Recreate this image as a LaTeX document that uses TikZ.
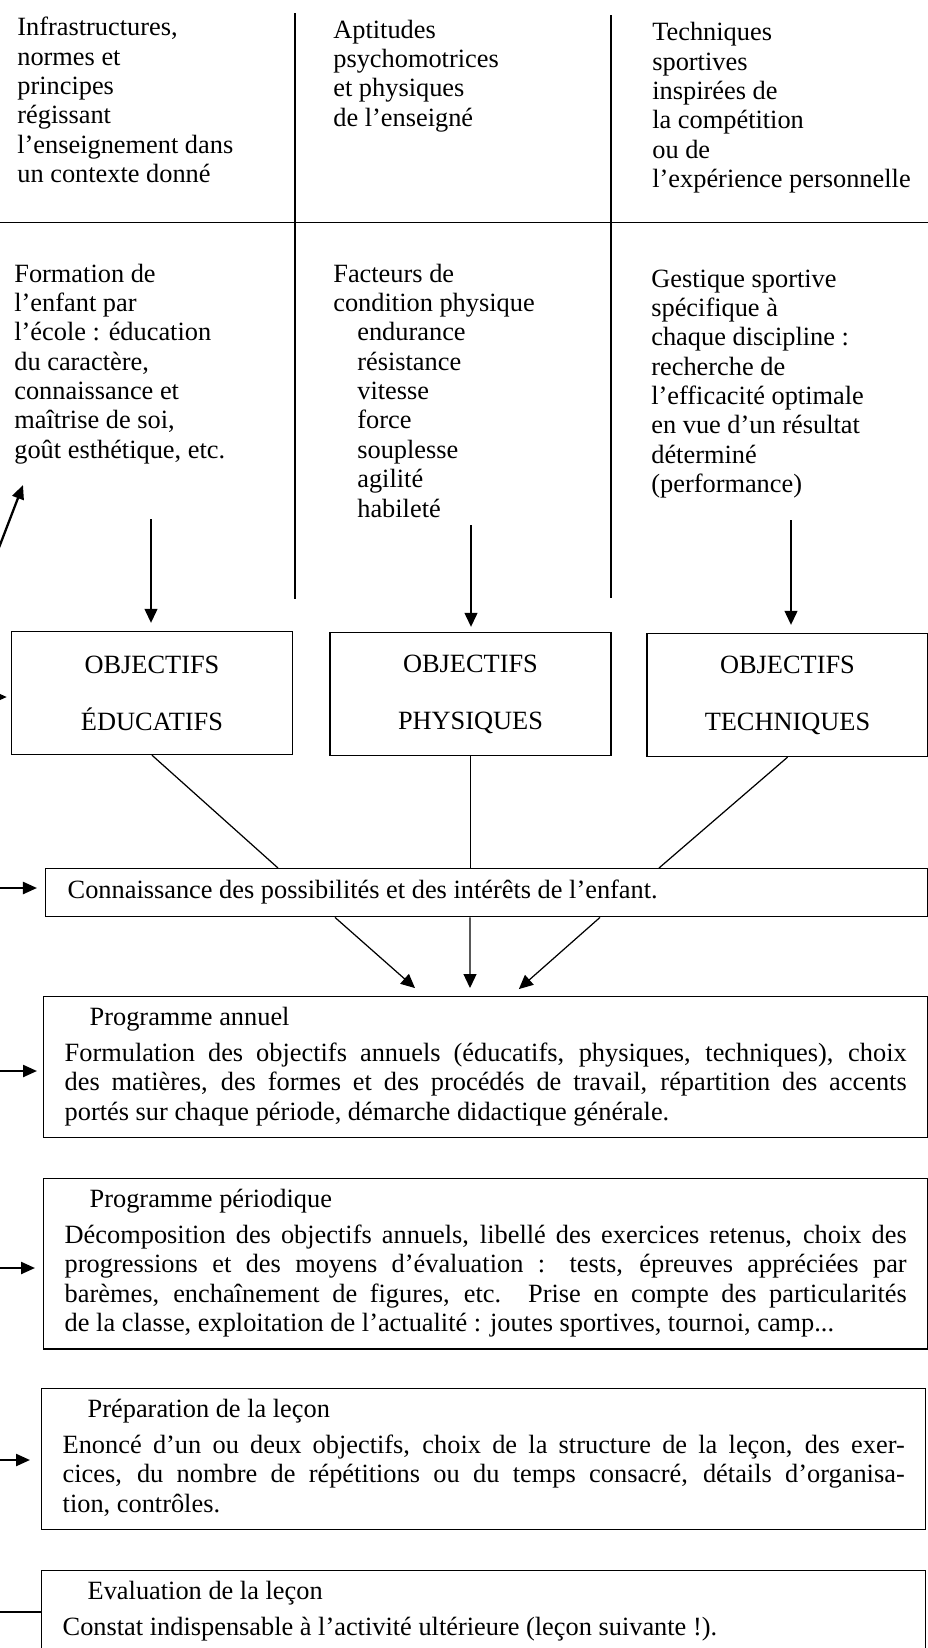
\documentclass[tikz,border=0pt]{standalone}
\usepackage{fontspec}
\setmainfont{Liberation Serif}
\usetikzlibrary{arrows.meta, calc}
\tolerance=10000
\hbadness=10000
\newcommand{\bodyfont}{\fontsize{15}{16.7}\selectfont}
\tikzset{
    cell/.style={anchor=north west, align=left, inner sep=0pt, font=\bodyfont},
    objbox/.style={rectangle, draw=black, line width=0.8pt, minimum width=5.62cm,
        minimum height=2.46cm, align=center, font=\bodyfont},
    progbox/.style={rectangle, draw=black, line width=0.8pt, anchor=north west,
        text width=16.84cm, inner xsep=0.42cm, inner ysep=0.17cm, align=justify, font=\bodyfont},
    arr/.style={-{Triangle[length=0.28cm, width=0.26cm]}, line width=0.7pt, draw=black},
    inarr/.style={-{Triangle[length=0.28cm, width=0.24cm]}, line width=1.3pt, draw=black},
    gridline/.style={line width=0.8pt, draw=black},
    tie/.style={line width=0.7pt, draw=black}
}

\begin{document}
\begin{tikzpicture}
%% LAYOUT (origin top left, 1 px of the page = 0.02 cm):
%% y= -0.7 .. -3.7 : three source texts, rule at y=-4.45
%% y= -5.7 .. -10.3: three detail texts
%% y=-13.9         : OBJ boxes   (edu, phy, tec)
%% y=-17.8         : conn box
%% y=-21 .. -33    : annuel, periodique, preparation, evaluation
\useasboundingbox (0,0) rectangle (18.56,-32.96);
\clip (0,0) rectangle (18.56,-32.96);

%% ── GRID ────────────────────────────────────────────────────────
\draw[gridline] (0,-4.45) -- (18.56,-4.45);
\draw[gridline] (5.90,-0.26) -- (5.90,-11.98);
\draw[gridline] (12.22,-0.30) -- (12.22,-11.96);

%% cells: north west = first baseline + 0.413 (strut height)
\node[cell] (infra) at (0.34,-0.297) {\strut Infrastructures,\\normes et\\principes\\régissant\\l’enseignement dans\\un contexte donné};
\node[cell] (aptitudes) at (6.66,-0.347) {\strut Aptitudes\\psychomotrices\\et physiques\\de l’enseigné};
\node[cell] (techniques) at (13.04,-0.397) {\strut Techniques\\sportives\\inspirées de\\la compétition\\ou de\\l’expérience personnelle};

\node[cell] (formation) at (0.28,-5.227) {\strut Formation de\\l’enfant par\\l’école~: éducation\\du caractère,\\connaissance et\\maîtrise de soi,\\goût esthétique, etc.};
\node[cell] (facteurs) at (6.66,-5.227) {\strut Facteurs de\\condition physique\\
    \hspace*{0.48cm}endurance\\\hspace*{0.48cm}résistance\\\hspace*{0.48cm}vitesse\\
    \hspace*{0.48cm}force\\\hspace*{0.48cm}souplesse\\\hspace*{0.48cm}agilité\\
    \hspace*{0.48cm}habileté};
\node[cell] (gestique) at (13.02,-5.327) {\strut Gestique sportive\\spécifique à\\chaque discipline~:\\recherche de\\l’efficacité optimale\\en vue d’un résultat\\déterminé\\(performance)};

%% ── OBJECTIFS ───────────────────────────────────────────────────
\node[objbox] (objedu) at (3.04,-13.86)  {OBJECTIFS\\[0.55cm]ÉDUCATIFS};
\node[objbox] (objphy) at (9.41,-13.88)  {OBJECTIFS\\[0.55cm]PHYSIQUES};
\node[objbox] (objtec) at (15.75,-13.90) {OBJECTIFS\\[0.55cm]TECHNIQUES};

\coordinate (a1) at (3.02,-10.38);
\coordinate (a2) at (9.42,-10.50);
\coordinate (a3) at (15.82,-10.40);
\draw[arr, shorten >=0.16cm] (a1) -- (a1 |- objedu.north);
\draw[arr, shorten >=0.10cm] (a2) -- (a2 |- objphy.north);
\draw[arr, shorten >=0.16cm] (a3) -- (a3 |- objtec.north);

%% ── CONNAISSANCE ────────────────────────────────────────────────
\node[progbox, text width=16.76cm, inner xsep=0.44cm, minimum height=0.96cm]
    (conn) at (0.90,-17.36)
    {\strut Connaissance des possibilités et des intérêts de l’enfant.};

\draw[tie] (objedu.south) -- ([xshift=4.66cm]conn.north west);
\draw[tie] (objphy.south) -- (objphy.south |- conn.north);
\draw[tie] (objtec.south) -- ([xshift=12.28cm]conn.north west);

%% ── PROGRAMMES ──────────────────────────────────────────────────
\node[progbox] (annuel) at (0.86,-19.92)
    {\strut\hspace*{0.5cm}Programme annuel\\[0.13cm]
    Formulation des objectifs annuels (éducatifs, physiques, techniques), choix\linebreak
    des matières, des formes et des procédés de travail, répartition des accents\linebreak
    portés sur chaque période, démarche didactique générale.\strut};

\node[progbox] (periodique) at (0.86,-23.56)
    {\strut\hspace*{0.5cm}Programme périodique\\[0.13cm]
    Décomposition des objectifs annuels, libellé des exercices retenus, choix des\linebreak
    progressions et des moyens d’évaluation~: tests, épreuves appréciées par\linebreak
    barèmes, enchaînement de figures, etc. Prise en compte des particularités\linebreak
    de la classe, exploitation de l’actualité~: joutes sportives, tournoi, camp...\strut};

\node[progbox] (preparation) at (0.82,-27.76)
    {\strut\hspace*{0.5cm}Préparation de la leçon\\[0.13cm]
    Enoncé d’un ou deux objectifs, choix de la structure de la leçon, des exer-\linebreak
    cices, du nombre de répétitions ou du temps consacré, détails d’organisa-\linebreak
    tion, contrôles.\strut};

\node[progbox] (evaluation) at (0.82,-31.40)
    {\strut\hspace*{0.5cm}Evaluation de la leçon\\[0.13cm]
    Constat indispensable à l’activité ultérieure (leçon suivante~!).\rule[-1.5cm]{0pt}{1.5cm}};

%% conn -> annuel
\draw[arr, shorten >=0.24cm] ([xshift=5.80cm]conn.south west) -- ([xshift=7.62cm]annuel.north west);
\draw[arr, shorten >=0.16cm] ([xshift=8.50cm]conn.south west) -- ([xshift=8.54cm]annuel.north west);
\draw[arr, shorten >=0.21cm] ([xshift=11.10cm]conn.south west) -- ([xshift=9.36cm]annuel.north west);

%% ── ARROWS FROM THE LEFT BORDER ─────────────────────────────────
\coordinate (inedu)  at (-0.5,-13.94);
\coordinate (inconn) at (-0.5,-17.76);
\coordinate (inann)  at (-0.5,-21.42);
\coordinate (inper)  at (-0.5,-25.36);
\coordinate (inprep) at (-0.5,-29.20);
\coordinate (outeval) at (-0.5,-32.24);
\draw[inarr, shorten >=0.08cm] (inedu)  -- (inedu -| objedu.west);
\draw[inarr, shorten >=0.16cm] (inconn) -- (inconn -| conn.west);
\draw[inarr, shorten >=0.12cm] (inann)  -- (inann -| annuel.west);
\draw[inarr, shorten >=0.16cm] (inper)  -- (inper -| periodique.west);
\draw[inarr, shorten >=0.22cm] (inprep) -- (inprep -| preparation.west);
\draw[line width=1.3pt] (outeval -| evaluation.west) -- (outeval);

%% back to the top: diagonal arrow
\coordinate (fbstart) at (-0.20,-11.42);
\coordinate (fbend)   at (0.46,-9.70);
\draw[inarr] (fbstart) -- (fbend);

\end{tikzpicture}
\end{document}
